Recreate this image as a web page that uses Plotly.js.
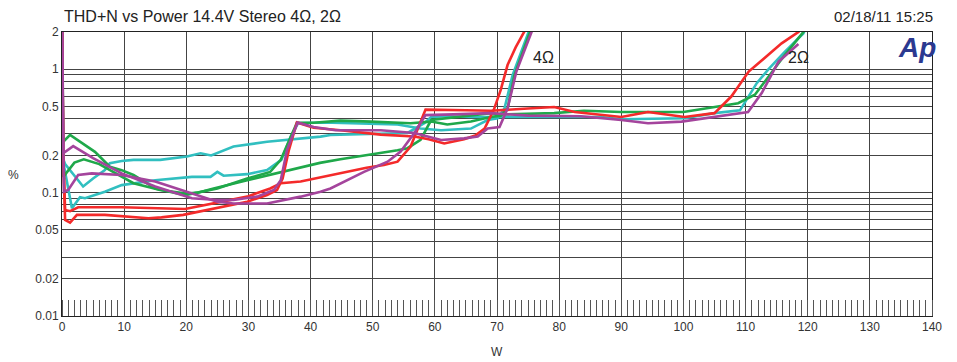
<!DOCTYPE html>
<html>
<head>
<meta charset="utf-8">
<script src="https://cdn.plot.ly/plotly-3.0.1.min.js"></script>
<style>html,body{margin:0;padding:0;background:#fff;}#chart{width:957px;height:362px;}</style>
</head>
<body>
<div id="chart"></div>
<script>
// ---- data (W, %THD+N) ----
const red4X = [0, 0.2, 0.5, 1.3, 2.4, 6.9, 13.9, 16, 19.5, 24.4, 29.8, 33, 34.6, 35.5, 36.5, 37.8, 38.5, 40.5, 44.8, 51.3, 56.7, 59, 61.5, 63, 64.7, 66.5, 68, 69.5, 70.6, 71.7, 73, 74.7, 75.5];
const red4Y = [3, 0.2, 0.06, 0.057, 0.066, 0.066, 0.062, 0.063, 0.066, 0.0745, 0.0844, 0.0955, 0.105, 0.13, 0.22, 0.37, 0.36, 0.335, 0.32, 0.295, 0.285, 0.27, 0.25, 0.26, 0.27, 0.29, 0.33, 0.47, 0.68, 1.08, 1.5, 2.15, 2.6];

const green4X = [0, 0.2, 1.3, 5.3, 7.7, 9.6, 11.5, 15, 19.8, 22, 25, 29.8, 33.5, 35.2, 36.8, 37.8, 40.5, 44.8, 49.7, 56.1, 59.4, 62, 65.8, 69, 70.6, 71.7, 72.8, 75.5, 76];
const green4Y = [3, 0.258, 0.293, 0.214, 0.162, 0.152, 0.139, 0.108, 0.0955, 0.1, 0.108, 0.13, 0.147, 0.184, 0.284, 0.368, 0.368, 0.383, 0.376, 0.365, 0.376, 0.356, 0.376, 0.41, 0.42, 0.48, 0.89, 2.1, 2.5];

const cyan4X = [0, 0.5, 1.6, 2.9, 3.7, 6.9, 9.6, 15, 20.9, 23.9, 25, 26, 29.8, 33, 35.3, 36.8, 38, 42, 48, 54, 57.7, 61, 65.8, 68.5, 70.1, 71.2, 72.5, 75.3, 75.8];
const cyan4Y = [0.2, 0.15, 0.0745, 0.0917, 0.09, 0.1016, 0.115, 0.126, 0.134, 0.134, 0.147, 0.137, 0.141, 0.152, 0.184, 0.284, 0.365, 0.37, 0.365, 0.356, 0.33, 0.32, 0.33, 0.387, 0.4, 0.48, 0.89, 2.1, 2.5];

const purple4X = [0, 0.2, 1.8, 5, 9.6, 15, 20.9, 25, 27.6, 31.4, 34.1, 35.2, 36.2, 37.9, 40.5, 44, 51.3, 56.7, 61, 64.7, 66.9, 68.5, 70.4, 71.7, 73.1, 75.8, 76.3];
const purple4Y = [3, 0.208, 0.238, 0.19, 0.143, 0.112, 0.09, 0.087, 0.087, 0.0927, 0.105, 0.126, 0.22, 0.37, 0.34, 0.32, 0.32, 0.304, 0.267, 0.275, 0.284, 0.33, 0.34, 0.48, 0.95, 2.1, 2.5];

const red2X = [0, 0.2, 0.5, 1.3, 2.6, 9.6, 19.8, 24.4, 29.8, 33.5, 35.2, 38.4, 41.6, 44.8, 49, 51.8, 54, 56.1, 58.5, 65, 69, 75, 79.2, 82.5, 86.8, 90, 94.3, 100.2, 105, 107.7, 110.5, 113.7, 115.8, 118.5, 119.5];
const red2Y = [3, 0.2, 0.0723, 0.0707, 0.076, 0.076, 0.0737, 0.0816, 0.0927, 0.108, 0.119, 0.123, 0.133, 0.145, 0.159, 0.167, 0.178, 0.236, 0.47, 0.465, 0.46, 0.48, 0.494, 0.45, 0.424, 0.41, 0.45, 0.41, 0.44, 0.6, 0.955, 1.3, 1.62, 2.0, 2.3];

const green2X = [0, 0.2, 2, 3.5, 6, 9.6, 11.5, 15.8, 20, 22, 24.4, 29.8, 33.5, 36, 38.4, 41.5, 44.8, 49, 54, 55.6, 57.7, 59.4, 63.7, 69, 70.6, 79.2, 84, 90, 100, 105, 108.8, 111.5, 114.5, 116.3, 119.3, 120];
const green2Y = [3, 0.134, 0.175, 0.186, 0.17, 0.135, 0.119, 0.105, 0.098, 0.1, 0.108, 0.126, 0.14, 0.15, 0.16, 0.174, 0.186, 0.2, 0.22, 0.229, 0.267, 0.387, 0.41, 0.44, 0.43, 0.44, 0.46, 0.45, 0.45, 0.49, 0.53, 0.62, 0.98, 1.3, 2.0, 2.4];

const cyan2X = [0, 0.5, 3.4, 5, 6.9, 7.7, 9.6, 11.5, 15.8, 20.1, 22.3, 24, 27.6, 33, 41.6, 43.2, 55.6, 58.3, 59.4, 62, 66, 70.6, 79.2, 86.8, 90, 100.2, 105, 109.1, 111.8, 113.7, 116.3, 119.3, 120];
const cyan2Y = [0.2, 0.17, 0.112, 0.13, 0.152, 0.173, 0.18, 0.184, 0.184, 0.196, 0.208, 0.2, 0.236, 0.258, 0.284, 0.293, 0.304, 0.365, 0.41, 0.415, 0.41, 0.41, 0.41, 0.41, 0.393, 0.4, 0.44, 0.464, 0.77, 1.0, 1.38, 1.95, 2.3];

const purple2X = [0, 0.3, 1, 2.6, 4.8, 9.6, 15, 20.9, 25, 27.6, 33, 38.4, 41.6, 43.2, 48.6, 52.4, 54.5, 56.7, 58.5, 63, 69, 75, 83.5, 90, 94.3, 99.7, 105, 110.4, 112.6, 115.3, 118.5];
const purple2Y = [3, 0.1016, 0.105, 0.139, 0.143, 0.139, 0.123, 0.0985, 0.0844, 0.0816, 0.0816, 0.0927, 0.1016, 0.108, 0.147, 0.178, 0.215, 0.304, 0.424, 0.43, 0.44, 0.42, 0.415, 0.387, 0.365, 0.376, 0.41, 0.45, 0.64, 1.15, 1.6];

const yTickVals = [0.01,0.02,0.03,0.04,0.05,0.06,0.07,0.08,0.09,0.1,0.2,0.3,0.4,0.5,0.6,0.7,0.8,0.9,1,2];
const yTickText = ['0.01','0.02','','','0.05','','','','','0.1','0.2','','','0.5','','','','','1','2'];
const xTickVals = [0,10,20,30,40,50,60,70,80,90,100,110,120,130,140];

const colors = {red:'#f42a2a', green:'#1fa84a', cyan:'#31bfc0', purple:'#a4449c'};
const FONT = 'Liberation Sans Narrow, Arial Narrow, Liberation Sans, Arial, sans-serif';

function tr(x, y, c) {
  return {x: x, y: y, type: 'scatter', mode: 'lines', line: {color: c, width: 2.6}, hoverinfo: 'skip'};
}

const data = [
  tr(cyan2X, cyan2Y, colors.cyan),
  tr(cyan4X, cyan4Y, colors.cyan),
  tr(green2X, green2Y, colors.green),
  tr(green4X, green4Y, colors.green),
  tr(red2X, red2Y, colors.red),
  tr(red4X, red4Y, colors.red),
  tr(purple2X, purple2Y, colors.purple),
  tr(purple4X, purple4Y, colors.purple)
];

const layout = {
  width: 957, height: 362,
  margin: {l: 62, r: 25, t: 32, b: 46},
  paper_bgcolor: '#fff', plot_bgcolor: '#fff',
  showlegend: false,
  font: {family: FONT, size: 12, color: '#333'},
  xaxis: {
    range: [0, 140], tickmode: 'array', tickvals: xTickVals,
    showgrid: true, gridcolor: '#444', gridwidth: 1, zeroline: false,
    showline: true, linecolor: '#222', linewidth: 1, mirror: true,
    ticks: '', tickfont: {family: FONT, size: 12, color: '#333'},
    minor: {dtick: 1, ticks: 'inside', ticklen: 16, tickcolor: '#555', tickwidth: 1, showgrid: false}
  },
  yaxis: {
    type: 'log', range: [-2, Math.log10(2)], tickmode: 'array',
    tickvals: yTickVals, ticktext: yTickText,
    showgrid: true, gridcolor: '#444', gridwidth: 1, zeroline: false,
    showline: true, linecolor: '#222', linewidth: 1, mirror: true,
    ticks: '', tickfont: {family: FONT, size: 12, color: '#333'}
  },
  annotations: [
    {xref:'paper', yref:'paper', x:0, y:1.056, xanchor:'left', yanchor:'middle', showarrow:false,
     text:'THD+N vs Power 14.4V Stereo 4Ω, 2Ω', font:{family:FONT, size:16, color:'#222'}},
    {xref:'paper', yref:'paper', x:1.0034, y:1.053, xanchor:'right', yanchor:'middle', showarrow:false,
     text:'02/18/11 15:25', font:{family:FONT, size:15, color:'#222'}},
    {xref:'paper', yref:'paper', x:-0.0552, y:0.4965, xanchor:'center', yanchor:'middle', showarrow:false,
     text:'%', font:{family:FONT, size:12, color:'#333'}},
    {xref:'paper', yref:'paper', x:0.5, y:-0.1268, xanchor:'center', yanchor:'middle', showarrow:false,
     text:'W', font:{family:FONT, size:12, color:'#333'}},
    {xref:'paper', yref:'paper', x:0.5529, y:0.9085, xanchor:'center', yanchor:'middle', showarrow:false,
     text:'4Ω', font:{family:FONT, size:16, color:'#222'}},
    {xref:'paper', yref:'paper', x:0.8471, y:0.9085, xanchor:'center', yanchor:'middle', showarrow:false,
     text:'2Ω', font:{family:FONT, size:16, color:'#222'}},
    {xref:'paper', yref:'paper', x:0.9828, y:0.945, xanchor:'center', yanchor:'middle', showarrow:false,
     text:'<b><i>Ap</i></b>', font:{family:FONT, size:28, color:'#2b3990'}}
  ]
};

Plotly.newPlot('chart', data, layout, {staticPlot: true, displayModeBar: false});
</script>
</body>
</html>
